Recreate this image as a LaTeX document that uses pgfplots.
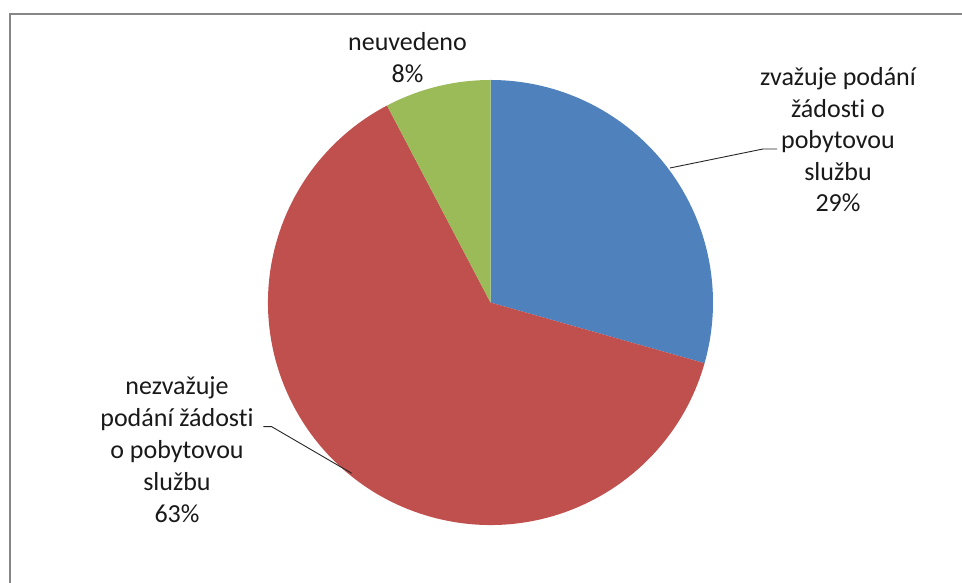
\documentclass[border=0pt]{standalone}
\usepackage{pgfplots}
\pgfplotsset{compat=1.18}
\usepackage{pgfplotstable}
\usepackage{fontspec}
\setmainfont{Carlito}[Ligatures={NoCommon,NoContextual}]
\definecolor{sBlue}{HTML}{4F81BD}
\definecolor{sRed}{HTML}{C0504D}
\definecolor{sGreen}{HTML}{9BBB59}
\definecolor{frameGray}{RGB}{134,134,134}
\pgfplotstableread{
label value
zvazuje 29.4
nezvazuje 62.9
neuvedeno 7.7
}\piedata
\begin{document}
\begin{tikzpicture}
\pgfplotstablegetelem{0}{value}\of\piedata \let\va\pgfplotsretval
\pgfplotstablegetelem{1}{value}\of\piedata \let\vb\pgfplotsretval
\pgfplotstablegetelem{2}{value}\of\piedata \let\vc\pgfplotsretval
\pgfmathsetmacro{\aA}{90}
\pgfmathsetmacro{\aB}{90-3.6*\va}
\pgfmathsetmacro{\aC}{\aB-3.6*\vb}
\pgfmathsetmacro{\aD}{\aC-3.6*\vc}
\begin{axis}[scale only axis, width=962pt, height=583pt,
  xmin=0, xmax=962, ymin=0, ymax=583, hide axis, clip=false,
  anchor=south west, at={(0pt,0pt)}]
% frame
\draw[frameGray, line width=2pt] (axis cs:10,0) -- (axis cs:10,569) -- (axis cs:962,569);
% wedges
\fill[sBlue] (axis cs:490.5,280.5) -- ++(\aA:222.5pt) arc[start angle=\aA, end angle=\aB, radius=222.5pt] -- cycle;
\fill[sRed] (axis cs:490.5,280.5) -- ++(\aB:222.5pt) arc[start angle=\aB, end angle=\aC, radius=222.5pt] -- cycle;
\fill[sGreen] (axis cs:490.5,280.5) -- ++(\aC:222.5pt) arc[start angle=\aC, end angle=\aD, radius=222.5pt] -- cycle;
% leader lines
\draw[black!85, line width=0.9pt] (axis cs:670,415) -- (axis cs:763,434) -- (axis cs:777,434);
\draw[black!85, line width=0.9pt] (axis cs:351.7,109.7) -- (axis cs:271.7,156.3) -- (axis cs:263.3,156.3);
% labels
\tikzset{lbl/.style={anchor=base, inner sep=0pt, font=\fontsize{26}{31}\selectfont, text=black!90}}
\node[lbl] at (axis cs:838,497) {zvažuje podání};
\node[lbl] at (axis cs:838,465.5) {žádosti o};
\node[lbl] at (axis cs:838,434) {pobytovou};
\node[lbl] at (axis cs:838,402.5) {službu};
\node[lbl] at (axis cs:838,371) {29\%};
\node[lbl] at (axis cs:407.5,532) {neuvedeno};
\node[lbl] at (axis cs:407.5,500.5) {8\%};
\node[lbl] at (axis cs:177,188) {nezvažuje};
\node[lbl] at (axis cs:177,156) {podání žádosti};
\node[lbl] at (axis cs:177,124) {o pobytovou};
\node[lbl] at (axis cs:177,92) {službu};
\node[lbl] at (axis cs:177,60) {63\%};
\end{axis}
\pgfresetboundingbox
\path[use as bounding box] (0pt,0pt) rectangle (962pt,583pt);
\end{tikzpicture}
\end{document}
